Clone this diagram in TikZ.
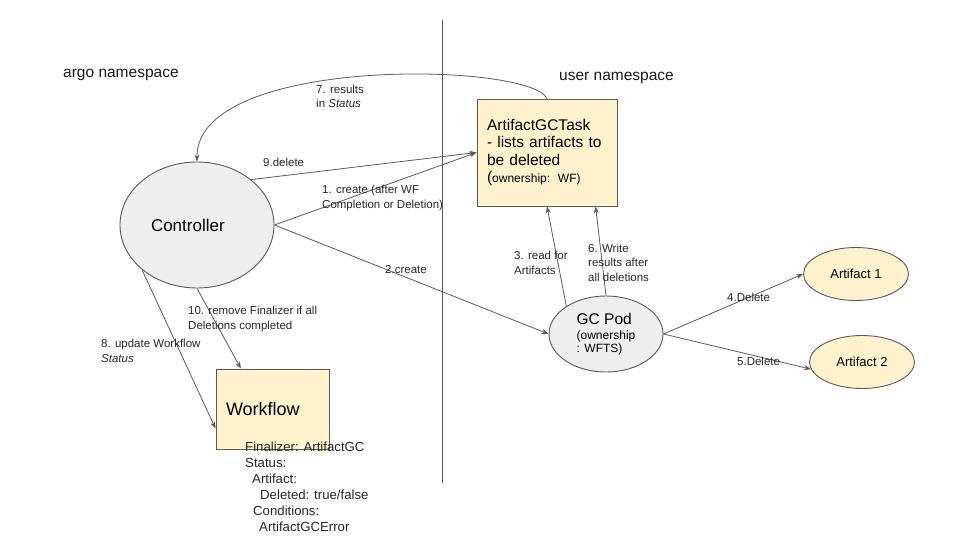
\documentclass[tikz,border=0pt]{standalone}
\usepackage{fontspec}
\setmainfont{Liberation Sans}
\usetikzlibrary{shapes.geometric,arrows.meta}
\definecolor{noteyellow}{HTML}{FFF2CC}
\definecolor{podgray}{HTML}{EEEEEE}
\definecolor{edgegray}{HTML}{595959}

\begin{document}
\begin{tikzpicture}[x=1pt, y=-1pt,
    oval/.style={ellipse, draw=edgegray, line width=0.9pt, inner sep=0pt},
    box/.style={rectangle, draw=edgegray, fill=noteyellow, line width=0.9pt, align=left, inner xsep=10pt},
    lbl/.style={anchor=base west, inner sep=0pt, align=left, text=black!85, font=\fontsize{11.5}{14.5}\selectfont},
    title/.style={anchor=base west, inner sep=0pt, text=black!90, font=\fontsize{15.5}{18}\selectfont},
    link/.style={draw=edgegray, line width=0.8pt, -{Stealth[length=7pt,width=5pt]}}]
    \useasboundingbox (0,0) rectangle (960,540);

    \node[title] (argo) at (63,78) {argo namespace};
    \node[title] (user) at (559,81) {user namespace};
    \draw[edgegray, line width=0.9pt] (442,20) -- (442,483);

    \node[oval, fill=podgray, minimum width=154pt, minimum height=126pt, text width=92pt, align=left,
          font=\fontsize{17}{20}\selectfont] (ctrl) at (197,225) {Controller};
    \node[box, minimum width=140pt, minimum height=107pt, text width=120pt,
          font=\fontsize{15.5}{17.5}\selectfont] (task) at (547,152.5)
          {ArtifactGCTask\\- lists artifacts to\\be deleted\\(\fontsize{12}{17.5}\selectfont ownership: WF)};
    \node[oval, fill=podgray, minimum width=114pt, minimum height=76pt, align=left,
          font=\fontsize{12}{12.5}\selectfont] (pod) at (606,334)
          {{\fontsize{15.5}{16}\selectfont GC Pod}\\[3pt](ownership\\: WFTS)};
    \node[oval, fill=noteyellow, minimum width=105pt, minimum height=53pt,
          font=\fontsize{13}{15}\selectfont] (art1) at (856,274) {Artifact 1};
    \node[oval, fill=noteyellow, minimum width=105pt, minimum height=53pt,
          font=\fontsize{13}{15}\selectfont] (art2) at (862,362) {Artifact 2};
    \node[box, minimum width=113pt, minimum height=80pt, text width=93pt,
          font=\fontsize{18}{20}\selectfont] (wf) at (272.5,409) {Workflow};
    \node[lbl, font=\fontsize{13.2}{16}\selectfont] (wfstatus) at (245,531)
          {Finalizer: ArtifactGC\\Status:\\\hspace*{7pt}Artifact:\\\hspace*{15pt}Deleted: true/false\\\hspace*{8pt}Conditions:\\\hspace*{14pt}ArtifactGCError};

    \draw[link] (task.north) .. controls (530,62) and (196,55) .. (ctrl.north);
    \draw[link] (ctrl.40) -- (task.west);
    \draw[link] (ctrl.east) -- (task.west);
    \draw[link] (ctrl.east) -- (pod.west);
    \draw[link] (pod.145) -- (task.south);
    \draw[link] (pod.north) -- (task.312);
    \draw[link] (pod.east) -- (art1.west);
    \draw[link] (pod.east) -- (art2.188);
    \draw[link] (ctrl.219) -- (wf.199);
    \draw[link] (ctrl.south) -- (wf.128);

    \node[lbl] (l7) at (316,108) {7. results\\in \textit{Status}};
    \node[lbl] (l9) at (263,167) {9.delete};
    \node[lbl] (l1) at (322,208) {1. create (after WF\\Completion or Deletion)};
    \node[lbl] (l2) at (385,273) {2.create};
    \node[lbl] (l3) at (514,274) {3. read for\\Artifacts};
    \node[lbl] (l6) at (588,281) {6. Write\\results after\\all deletions};
    \node[lbl] (l4) at (727,301) {4.Delete};
    \node[lbl] (l5) at (737,365) {5.Delete};
    \node[lbl] (l8) at (101,362) {8. update Workflow\\\textit{Status}};
    \node[lbl] (l10) at (188,329) {10. remove Finalizer if all\\Deletions completed};
\end{tikzpicture}
\end{document}
